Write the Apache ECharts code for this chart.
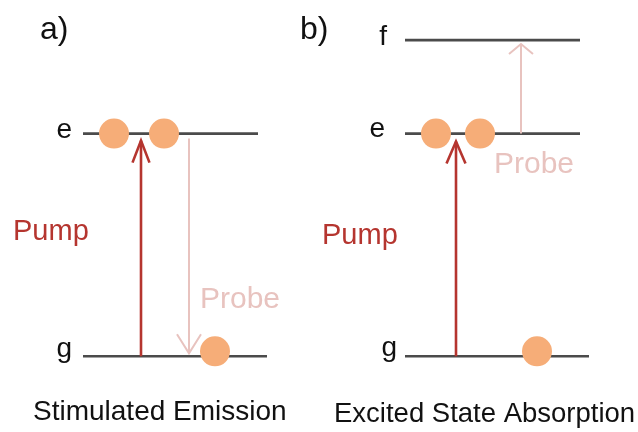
<!DOCTYPE html>
<html>
<head>
<meta charset="utf-8">
<script src="https://cdn.jsdelivr.net/npm/echarts@6/dist/echarts.min.js"></script>
<style>
  html, body { margin: 0; padding: 0; background: #ffffff; }
  #chart { width: 638px; height: 432px; }
</style>
</head>
<body>
<div id="chart"></div>
<script>
// Energy levels (arbitrary units, ground state at 0)
const levelNames = ['g', 'e', 'f'];
const levelEnergies = [0, 1, 1.42];

// Two pump-probe schemes side by side
const panelTags = ['a)', 'b)'];
const panelTitles = ['Stimulated Emission', 'Excited State Absorption'];
const panelLevels = [['g', 'e'], ['g', 'e', 'f']];

// Population of each level after the pump: [panel, level, number of carriers]
const populations = [
  [0, 'e', 2], [0, 'g', 1],
  [1, 'e', 2], [1, 'g', 1]
];

// Optical transitions: [panel, beam, from level, to level]
const transitions = [
  [0, 'Pump', 'g', 'e'], [0, 'Probe', 'e', 'g'],
  [1, 'Pump', 'g', 'e'], [1, 'Probe', 'e', 'f']
];

// ---- drawing layout (pixels) ----
const FONT = '"Liberation Sans", Arimo, Arial, sans-serif';
const INK = '#111111';
const LEVEL = '#4b4b4b';
const DOT = '#f6ad78';
const BEAM = { Pump: '#b5352f', Probe: '#e8c3bf' };
const BEAM_WIDTH = { Pump: 2.6, Probe: 2 };

const layout = {
  levelSpan: [ { g: [83, 267], e: [83, 258] }, { g: [405, 589], e: [405, 580], f: [405, 580] } ],
  levelLabel: [ { g: [72, -7.5], e: [72, -3.5] }, { g: [397, -8], e: [385, -4], f: [387, -2.5] } ],
  dotX: [ { e: [114, 164], g: [215] }, { e: [436, 480], g: [537] } ],
  dotLift: { g: -5, e: 0, f: 0 },
  arrowX: [ { Pump: 141, Probe: 189 }, { Pump: 456, Probe: 521 } ],
  arrowGap: [ { Pump: [0, 7], Probe: [5, 3] }, { Pump: [0, 8], Probe: [0, 4] } ],
  arrowHead: [ { Pump: [22, 8.5], Probe: [19, 12] }, { Pump: [22, 9.5], Probe: [10, 12] } ],
  beamLabel: [ { Pump: [13, 231.5], Probe: [200, 299.5] }, { Pump: [322, 236], Probe: [494, 165] } ],
  tag: [ [40, 30.5], [300, 30] ],
  title: [ [33, 412, 28], [334, 414.5, 27.5] ]
};

const energyOf = name => levelEnergies[levelNames.indexOf(name)];

// Level lines with their labels
const levelItems = [];
const levelMeta = [];
panelLevels.forEach((levels, p) => {
  levels.forEach(name => {
    const span = layout.levelSpan[p][name];
    levelItems.push([span[0], energyOf(name), span[1]]);
    levelMeta.push({ name, label: layout.levelLabel[p][name] });
  });
});

// Carriers sitting on the levels
const dotItems = [];
populations.forEach(([p, name, n]) => {
  for (let i = 0; i < n; i++) {
    dotItems.push({
      value: [layout.dotX[p][name][i], energyOf(name)],
      symbolOffset: [0, layout.dotLift[name]]
    });
  }
});

// Arrows
const arrowItems = [];
const arrowMeta = [];
transitions.forEach(([p, beam, from, to]) => {
  arrowItems.push([layout.arrowX[p][beam], energyOf(from), energyOf(to)]);
  arrowMeta.push({ beam, gap: layout.arrowGap[p][beam], head: layout.arrowHead[p][beam] });
});

// Free-standing text
const graphics = [];
panelTags.forEach((t, p) => {
  graphics.push({ type: 'text', x: layout.tag[p][0], y: layout.tag[p][1], silent: true,
    style: { text: t, fill: INK, font: '32px ' + FONT, align: 'left', verticalAlign: 'middle' } });
});
panelTitles.forEach((t, p) => {
  const [x, y, fs] = layout.title[p];
  graphics.push({ type: 'text', x, y, silent: true,
    style: { text: t, fill: INK, font: fs + 'px ' + FONT, align: 'left', verticalAlign: 'middle' } });
});
transitions.forEach(([p, beam]) => {
  const [x, y] = layout.beamLabel[p][beam];
  graphics.push({ type: 'text', x, y, silent: true,
    style: { text: beam, fill: BEAM[beam], font: (beam === 'Pump' ? 29 : 30) + 'px ' + FONT,
             align: 'left', verticalAlign: 'middle' } });
});

const chart = echarts.init(document.getElementById('chart'), null, { renderer: 'canvas' });

chart.setOption({
  animation: false,
  backgroundColor: '#ffffff',
  grid: { left: 0, right: 0, top: 0, bottom: 0 },
  xAxis: { type: 'value', min: 0, max: 638, show: false },
  yAxis: { type: 'value', min: -0.34, max: 1.6, show: false },
  graphic: graphics,
  series: [
    {
      type: 'custom',
      name: 'levels',
      z: 2,
      silent: true,
      data: levelItems,
      renderItem: (params, api) => {
        const a = api.coord([api.value(0), api.value(1)]);
        const b = api.coord([api.value(2), api.value(1)]);
        const meta = levelMeta[params.dataIndex];
        return {
          type: 'group',
          children: [
            { type: 'line', shape: { x1: a[0], y1: a[1], x2: b[0], y2: b[1] },
              style: { stroke: LEVEL, lineWidth: 2.6 } },
            { type: 'text', style: { text: meta.name, x: meta.label[0], y: a[1] + meta.label[1],
              fill: INK, font: '28px ' + FONT, align: 'right', verticalAlign: 'middle' } }
          ]
        };
      }
    },
    {
      type: 'custom',
      name: 'transitions',
      z: 3,
      silent: true,
      data: arrowItems,
      renderItem: (params, api) => {
        const meta = arrowMeta[params.dataIndex];
        const from = api.coord([api.value(0), api.value(1)]);
        const to = api.coord([api.value(0), api.value(2)]);
        const dir = to[1] < from[1] ? 1 : -1;   // +1 when the arrow points up
        const x = from[0];
        const y0 = from[1] - dir * meta.gap[0];
        const yt = to[1] + dir * meta.gap[1];
        const [len, hw] = meta.head;
        const style = { stroke: BEAM[meta.beam], lineWidth: BEAM_WIDTH[meta.beam], fill: null };
        return {
          type: 'group',
          children: [
            { type: 'line', shape: { x1: x, y1: y0, x2: x, y2: yt }, style },
            { type: 'polyline', shape: { points: [[x - hw, yt + dir * len], [x, yt], [x + hw, yt + dir * len]] },
              style }
          ]
        };
      }
    },
    {
      type: 'scatter',
      name: 'carriers',
      z: 4,
      silent: true,
      symbol: 'circle',
      symbolSize: 30,
      itemStyle: { color: DOT, opacity: 1 },
      data: dotItems
    }
  ]
});
</script>
</body>
</html>
